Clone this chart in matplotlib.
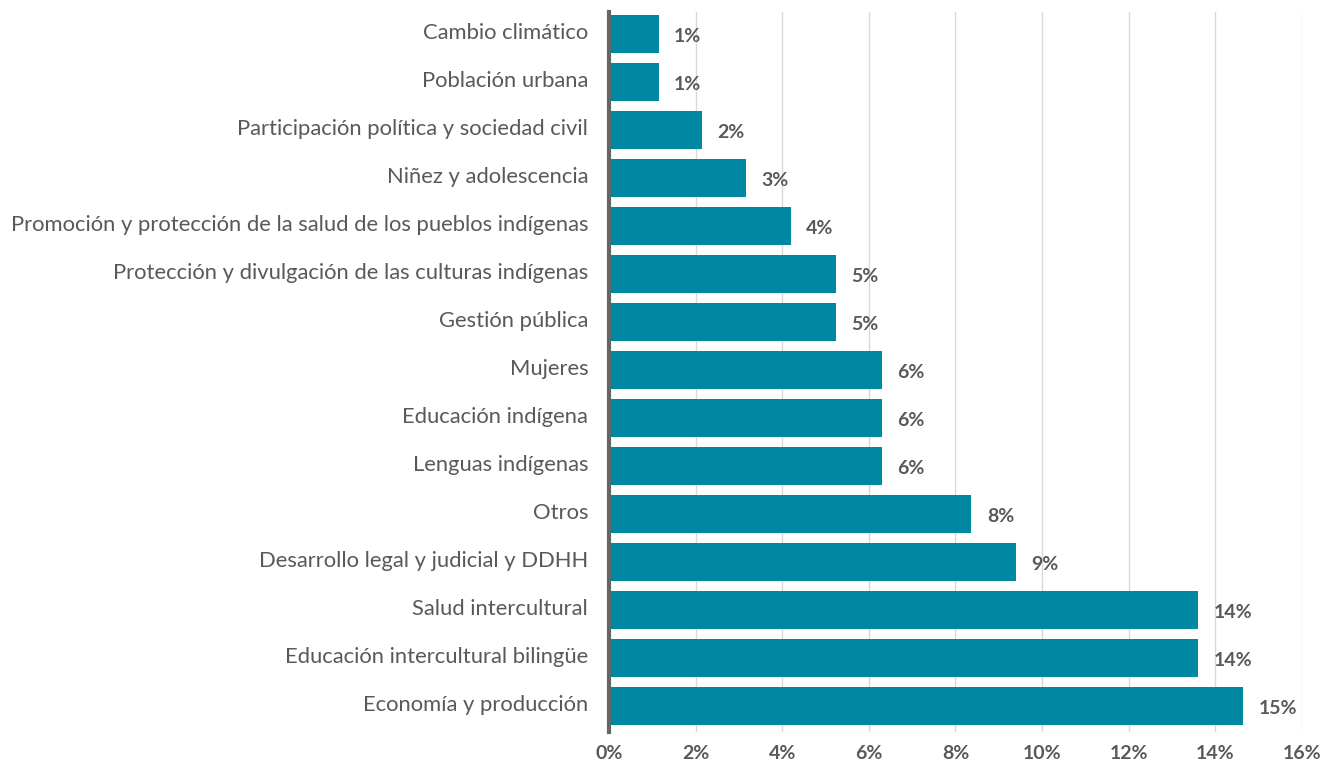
import matplotlib
matplotlib.use("Agg")
import matplotlib.pyplot as plt
import matplotlib.transforms as mtransforms
from matplotlib.ticker import FuncFormatter

# Data (bottom to top as drawn)
categories = [
    "Economía y producción",
    "Educación intercultural bilingüe",
    "Salud intercultural",
    "Desarrollo legal y judicial y DDHH",
    "Otros",
    "Lenguas indígenas",
    "Educación indígena",
    "Mujeres",
    "Gestión pública",
    "Protección y divulgación de las culturas indígenas",
    "Promoción y protección de la salud de los pueblos indígenas",
    "Niñez y adolescencia",
    "Participación política y sociedad civil",
    "Población urbana",
    "Cambio climático",
]
values = [14.65, 13.6, 13.6, 9.4, 8.37, 6.3, 6.3, 6.3, 5.24, 5.24, 4.2, 3.17, 2.15, 1.15, 1.15]
xticks = [0, 2, 4, 6, 8, 10, 12, 14, 16]

bar_color = "#0088A2"
text_color = "#595959"

plt.rcParams["font.family"] = ["Lato", "DejaVu Sans"]

fig = plt.figure(figsize=(13.25, 7.65), dpi=100)
ax = fig.add_axes([0.4596, 0.0431, 0.5230, 0.9410])

y = list(range(len(categories)))
ax.barh(y, values, height=0.79, color=bar_color, zorder=3)

# Data labels
for yi, v in zip(y, values):
    ax.annotate(f"{round(v):.0f}%", xy=(v, yi), xytext=(11, -2), textcoords="offset points",
                ha="left", va="center", fontsize=14, fontweight="bold", color=text_color)

ax.set_xlim(0, 16)
ax.set_ylim(-0.54, 14.45)
ax.set_xticks(xticks)
ax.xaxis.set_major_formatter(FuncFormatter(lambda x, p: f"{x:.0f}%"))
ax.set_yticks(y)
ax.set_yticklabels(categories)

ax.grid(axis="x", color="#d9d9d9", linewidth=1, zorder=0)
for s in ["top", "right", "bottom"]:
    ax.spines[s].set_visible(False)
ax.spines["left"].set_color("#666666")
ax.spines["left"].set_linewidth(3)
ax.spines["left"].set_zorder(4)

ax.tick_params(axis="y", length=0, pad=15, labelsize=15.8, labelcolor=text_color)
ax.tick_params(axis="x", length=0, pad=9, labelsize=14, labelcolor=text_color)
for lbl in ax.get_xticklabels():
    lbl.set_fontweight("bold")

# category labels sit a little above the bar centres
shift = mtransforms.ScaledTranslation(0, 3 / 100, fig.dpi_scale_trans)
for lbl in ax.get_yticklabels():
    lbl.set_transform(lbl.get_transform() + shift)

fig.savefig("out.png", dpi=100)
